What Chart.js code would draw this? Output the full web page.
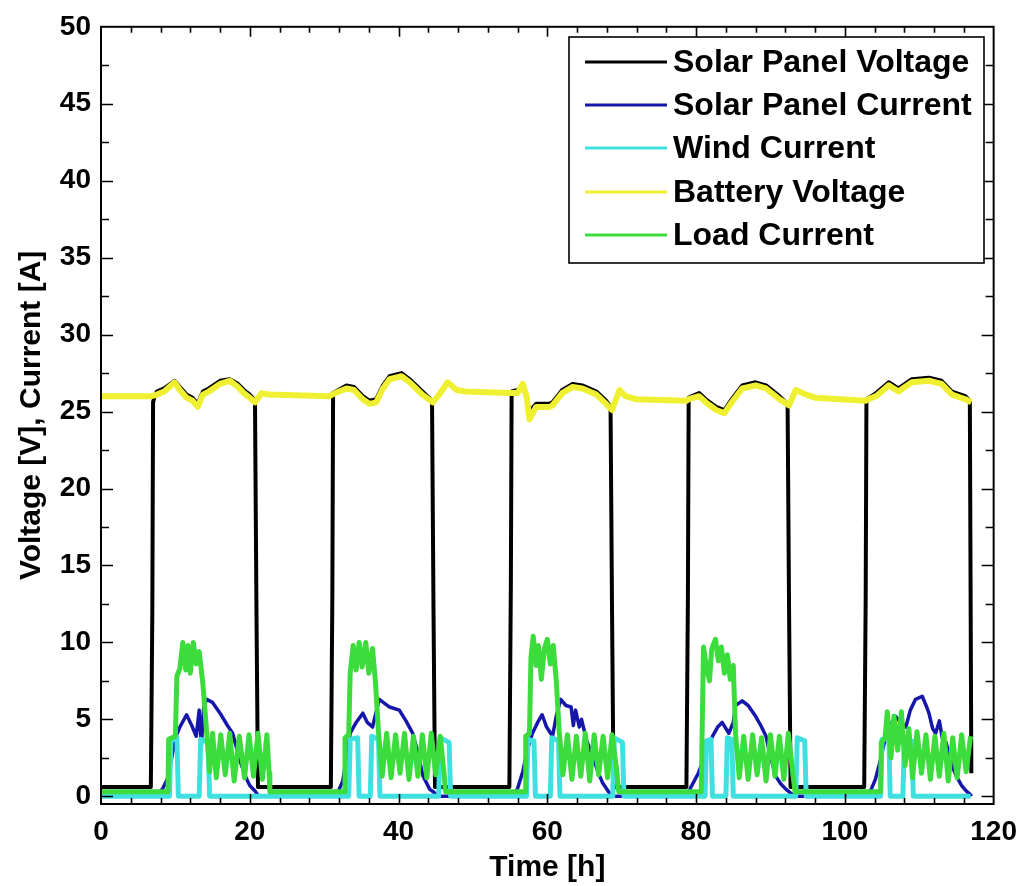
<!DOCTYPE html>
<html>
<head>
<meta charset="utf-8">
<script src="https://cdn.jsdelivr.net/npm/chart.js@4.4.1/dist/chart.umd.min.js"></script>
<style>
  html, body { margin: 0; padding: 0; background: #ffffff; }
  #wrap { width: 1028px; height: 886px; }
</style>
</head>
<body>
<div id="wrap"><canvas id="c" width="1028" height="886"></canvas></div>
<script>
// Axis tick labels
const xTickLabels = [0, 20, 40, 60, 80, 100, 120];
const yTickLabels = [0, 5, 10, 15, 20, 25, 30, 35, 40, 45, 50];

// Series: [time in hours, value]
const solarPanelVoltage = [
  [0,0.6],[6.7,0.6],[6.9,12],[7.0,25.6],[7.2,26.0],[7.5,26.3],[8.5,26.5],[9.9,27.0],[10.6,26.6],[11.5,26.1],
  [12.3,25.9],[13.0,25.5],[13.7,26.3],[14.5,26.5],[16.0,27.0],[17.3,27.1],[18.4,26.8],[19.2,26.4],[20.0,26.1],
  [20.7,25.7],[20.9,12],[21.1,0.6],
  [30.9,0.6],[31.1,13],[31.2,26.2],[33.0,26.7],[34.0,26.6],[35.2,26.0],[36.1,25.7],[37.0,25.8],[37.9,26.7],
  [38.8,27.3],[40.4,27.5],[41.5,27.1],[43.2,26.3],[44.5,25.7],[44.7,12],[44.9,0.6],
  [54.9,0.6],[55.1,14],[55.2,26.3],[56.0,26.4],[56.7,26.6],[57.2,25.9],[57.6,25.0],[58.5,25.5],[60.3,25.5],
  [60.7,25.6],[62.0,26.4],[63.4,26.8],[64.7,26.7],[66.6,26.3],[67.9,25.7],[68.5,25.3],[68.7,12],[68.9,0.6],
  [78.7,0.6],[78.9,13],[79.0,25.9],[80.4,26.2],[81.3,25.8],[82.7,25.3],[83.8,25.1],[84.8,25.8],[86.2,26.7],
  [88.0,26.9],[89.4,26.7],[91.2,26.0],[92.3,25.5],[92.5,12],[92.7,0.6],
  [102.6,0.6],[102.8,13],[102.9,25.8],[104.2,26.2],[105.9,26.9],[107.2,26.5],[109.0,27.1],[111.3,27.2],
  [113.0,27.0],[114.4,26.3],[116.2,26.0],[116.8,25.7],[117.0,1.5]
];

const solarPanelCurrent = [
  [0,0],[7.0,0],[7.5,0.1],[8.3,0.5],[8.9,1.1],[9.5,2.5],[10.0,3.8],[10.6,4.5],[11.5,5.3],[12.2,4.6],[12.8,3.9],
  [13.2,5.6],[13.5,3.3],[13.8,5.8],[14.2,6.3],[15.0,6.1],[16.0,5.4],[17.0,4.6],[17.7,4.1],[18.3,3.0],[18.9,2.0],
  [19.5,1.2],[20.0,0.7],[20.7,0.35],[21.2,0],
  [31.2,0],[31.8,0.2],[32.5,1.0],[33.0,2.5],[33.5,4.1],[34.3,4.8],[35.2,5.4],[35.8,4.8],[36.5,4.5],[37.0,5.5],
  [37.4,6.3],[38.8,5.8],[40.1,5.6],[41.0,4.9],[41.9,4.1],[42.6,2.8],[43.3,1.3],[44.2,0.45],[44.8,0.25],[45.2,0],
  [55.3,0],[56.0,0.5],[56.7,1.6],[57.3,3.0],[58.0,4.1],[58.7,4.8],[59.3,5.3],[59.9,4.5],[60.7,3.9],[61.2,5.2],
  [61.8,6.3],[62.5,5.9],[63.2,5.8],[63.5,4.6],[63.8,5.6],[64.3,4.5],[64.6,5.0],[65.3,3.6],[66.1,2.6],[66.8,1.6],
  [67.4,0.9],[68.3,0.25],[68.8,0],
  [79.0,0],[79.2,0.5],[80.3,1.5],[81.3,2.8],[82.2,3.9],[82.9,4.5],[83.5,4.8],[84.4,4.1],[85.0,4.8],[85.3,5.9],
  [86.2,6.2],[87.0,5.9],[88.0,5.2],[88.7,4.6],[89.4,3.9],[90.0,2.6],[90.7,1.3],[91.4,0.8],[92.1,0.45],[93.0,0.1],[93.3,0],
  [102.9,0],[103.5,0.4],[104.1,1.1],[104.8,2.4],[105.4,3.7],[106.1,4.6],[106.8,5.2],[107.5,4.8],[108.2,4.5],
  [108.8,5.6],[109.5,6.3],[110.4,6.5],[111.0,5.8],[111.3,5.4],[111.8,4.4],[112.2,4.1],[112.7,4.9],[113.1,3.8],
  [113.6,3.5],[114.4,2.0],[115.0,1.3],[115.7,0.7],[116.3,0.35],[116.9,0.1],[117.0,0]
];

const windCurrent = [
  [0,0],[9.2,0],[9.4,3.6],[10.2,3.8],[10.4,0],[13.2,0],[13.4,3.7],[14.4,3.5],[14.6,0],
  [33.3,0],[33.5,3.7],[34.5,3.8],[34.7,0],[36.2,0],[36.4,3.9],[37.3,3.7],[37.5,0],[45.4,0],[45.6,3.8],[46.8,3.5],[47.0,0],
  [57.2,0],[57.4,3.7],[58.2,3.6],[58.4,0],[60.4,0],[60.6,3.8],[61.5,3.6],[61.7,0],[68.8,0],[69.0,3.8],[70.1,3.5],[70.3,0],
  [81.2,0],[81.4,3.6],[82.0,3.7],[82.2,0],[84.0,0],[84.2,3.8],[84.8,3.7],[85.0,0],[93.4,0],[93.6,3.8],[94.6,3.6],[94.8,0],
  [104.8,0],[105.0,3.7],[105.9,3.8],[106.1,0],[107.8,0],[108.0,3.7],[109.0,3.6],[109.2,0],[116.9,0]
];

const batteryVoltage = [
  [0,26.0],[6.8,26.0],[7.5,26.1],[8.5,26.3],[9.9,26.9],[10.6,26.4],[11.5,25.9],[12.3,25.7],[13.0,25.3],[13.7,26.1],
  [14.5,26.3],[16.0,26.8],[17.3,27.0],[18.4,26.6],[19.2,26.2],[20.0,25.9],[20.7,25.6],[21.6,26.2],[22.5,26.1],
  [30.7,26.0],[31.5,26.2],[33.0,26.5],[34.0,26.4],[35.2,25.8],[36.1,25.5],[37.0,25.6],[37.9,26.5],[38.8,27.1],
  [40.4,27.3],[41.5,26.9],[43.2,26.1],[44.6,25.6],[45.3,26.0],[46.6,26.9],[47.8,26.4],[49.0,26.3],[54.9,26.2],
  [56.0,26.2],[56.7,26.8],[57.2,26.0],[57.6,24.5],[58.5,25.3],[60.3,25.3],[60.7,25.4],[62.0,26.2],[63.4,26.6],
  [64.7,26.5],[66.6,26.1],[67.9,25.5],[68.7,25.1],[69.7,26.4],[70.5,26.0],[72.0,25.8],[78.7,25.7],[79.0,25.8],
  [80.4,26.0],[81.3,25.6],[82.7,25.1],[83.8,24.9],[84.8,25.6],[86.2,26.5],[88.0,26.7],[89.4,26.5],[91.2,25.8],
  [92.5,25.4],[93.4,26.4],[94.8,26.1],[96.0,25.9],[102.8,25.7],[103.1,25.8],[104.2,26.0],[105.9,26.7],[107.2,26.3],
  [109.0,26.9],[111.3,27.0],[113.0,26.8],[114.4,26.1],[116.2,25.8],[117.0,25.6]
];

const loadCurrent = [
  [0,0.3],[9.0,0.3],[9.1,3.7],[10.0,3.9],[10.2,7.8],[10.6,8.3],[11.0,10.0],[11.4,8.2],[11.7,9.8],[12.0,8.0],
  [12.4,10.0],[12.8,8.6],[13.2,9.4],[13.7,7.3],[14.2,4.2],[14.6,1.6],[15.0,4.1],[15.5,1.2],[16.1,4.0],[16.7,1.4],
  [17.3,4.1],[17.9,1.0],[18.6,3.9],[19.3,1.2],[19.9,4.0],[20.5,1.3],[21.1,4.1],[21.7,1.1],[22.3,4.0],[22.6,1.5],[22.7,0.3],
  [32.7,0.3],[32.8,3.8],[33.3,4.0],[33.5,8.0],[33.9,9.8],[34.3,8.2],[34.7,10.0],[35.1,8.4],[35.6,10.0],[36.0,8.0],
  [36.5,9.6],[36.9,7.4],[37.3,4.2],[37.8,1.3],[38.4,4.1],[39.0,1.2],[39.6,4.0],[40.2,1.5],[40.8,4.1],[41.4,1.1],
  [42.0,3.9],[42.6,1.3],[43.2,4.0],[43.8,1.2],[44.4,4.1],[45.0,1.4],[45.6,3.9],[46.1,1.6],[46.3,0.3],
  [57.0,0.3],[57.1,3.9],[57.6,4.1],[57.8,9.0],[58.1,10.4],[58.5,8.5],[58.8,9.8],[59.2,7.6],[59.6,9.6],[60.0,10.2],
  [60.4,8.6],[60.8,9.8],[61.2,7.5],[61.6,4.2],[62.1,1.4],[62.7,4.0],[63.3,1.1],[63.9,3.9],[64.5,1.3],[65.1,4.1],
  [65.7,1.0],[66.3,4.0],[66.9,1.4],[67.5,3.9],[68.1,1.2],[68.7,4.0],[69.3,1.8],[69.6,0.3],
  [80.7,0.3],[80.8,3.8],[81.0,9.7],[81.4,8.4],[81.8,7.5],[82.1,9.6],[82.6,10.2],[83.0,8.8],[83.4,9.7],[83.8,8.0],
  [84.2,9.2],[84.6,7.6],[85.0,8.5],[85.3,4.1],[85.8,1.2],[86.4,3.9],[87.0,1.1],[87.6,4.0],[88.2,1.4],[88.8,3.8],
  [89.4,1.0],[90.0,4.0],[90.6,1.3],[91.2,3.9],[91.8,1.1],[92.4,4.1],[93.0,1.5],[93.3,0.3],
  [104.8,0.3],[104.9,3.5],[105.4,3.8],[105.7,5.5],[106.2,2.5],[106.6,5.2],[107.1,3.0],[107.6,5.5],[108.1,2.0],
  [108.6,4.4],[109.1,1.2],[109.7,4.2],[110.3,1.5],[110.9,4.0],[111.5,1.1],[112.1,3.9],[112.7,1.3],[113.3,4.1],
  [113.9,1.0],[114.5,3.8],[115.1,1.2],[115.7,4.0],[116.3,1.6],[116.9,3.9]
];

const seriesNames = ['Solar Panel Voltage', 'Solar Panel Current', 'Wind Current', 'Battery Voltage', 'Load Current'];
const seriesColors = ['#000000', '#1616aa', '#40e0e0', '#f0f032', '#3ddc3d'];
const seriesWidths = [4, 3.5, 5, 6, 5];
const seriesData = [solarPanelVoltage, solarPanelCurrent, windCurrent, batteryVoltage, loadCurrent];

const FONT = '"Liberation Sans", Arial, Helvetica, sans-serif';

// Box around the plot with inward ticks on all four sides
const framePlugin = {
  id: 'frame',
  afterDatasetsDraw(chart) {
    const { ctx, chartArea: a, scales: { x, y } } = chart;
    ctx.save();
    ctx.strokeStyle = '#000';
    ctx.lineWidth = 1.6;
    ctx.beginPath();
    for (let v = 4; v < 120; v += 4) {
      const px = Math.round(x.getPixelForValue(v)) + 0.5;
      const len = v % 20 === 0 ? 10 : 6;
      ctx.moveTo(px, a.bottom); ctx.lineTo(px, a.bottom - len);
      ctx.moveTo(px, a.top); ctx.lineTo(px, a.top + len);
    }
    for (let v = 0; v < 50; v += 2.5) {
      const py = Math.round(y.getPixelForValue(v)) + 0.5;
      const len = v % 5 === 0 ? 12 : 8;
      ctx.moveTo(a.left, py); ctx.lineTo(a.left + len, py);
      ctx.moveTo(a.right, py); ctx.lineTo(a.right - len, py);
    }
    ctx.stroke();
    ctx.lineWidth = 2;
    ctx.strokeRect(a.left, a.top, a.right - a.left, a.bottom - a.top);
    ctx.restore();
  }
};

// Boxed legend in the upper right of the plot
const boxLegendPlugin = {
  id: 'boxLegend',
  afterDraw(chart) {
    const { ctx } = chart;
    const box = { left: 569, top: 37, right: 984, bottom: 263 };
    const rowY = [62, 105, 148, 192, 235];
    ctx.save();
    ctx.fillStyle = '#fff';
    ctx.fillRect(box.left, box.top, box.right - box.left, box.bottom - box.top);
    ctx.strokeStyle = '#000';
    ctx.lineWidth = 1.6;
    ctx.strokeRect(box.left, box.top, box.right - box.left, box.bottom - box.top);
    chart.data.datasets.forEach((ds, i) => {
      const yy = rowY[i];
      ctx.strokeStyle = ds.borderColor;
      ctx.lineWidth = 3;
      ctx.beginPath();
      ctx.moveTo(585, yy); ctx.lineTo(667, yy);
      ctx.stroke();
      ctx.fillStyle = '#000';
      ctx.font = 'bold 32px ' + FONT;
      ctx.textAlign = 'left';
      ctx.textBaseline = 'middle';
      ctx.fillText(ds.label, 673, yy + 1);
    });
    ctx.restore();
  }
};

const datasets = seriesData.map((pts, i) => ({
  label: seriesNames[i],
  data: pts.map(p => ({ x: p[0], y: p[1] })),
  borderColor: seriesColors[i],
  backgroundColor: seriesColors[i],
  borderWidth: seriesWidths[i],
  pointRadius: 0,
  tension: 0,
  fill: false,
  borderJoinStyle: 'round',
  // later series in the list are painted on top
  order: seriesData.length - i
}));

new Chart(document.getElementById('c'), {
  type: 'line',
  data: { datasets },
  options: {
    responsive: false,
    devicePixelRatio: 1,
    animation: false,
    layout: { padding: { left: 0, top: 23, right: 33, bottom: 0 } },
    plugins: { legend: { display: false }, tooltip: { enabled: false } },
    scales: {
      x: {
        type: 'linear',
        min: 0, max: 120,
        grid: { display: false, drawTicks: false },
        border: { display: false },
        afterBuildTicks(scale) { scale.ticks = xTickLabels.map(v => ({ value: v })); },
        afterFit(scale) { scale.height = 82; },
        ticks: { color: '#000', padding: 11, maxRotation: 0, font: { family: FONT, size: 28, weight: 'bold' } },
        title: { display: true, text: 'Time [h]', color: '#000', padding: { top: 0, bottom: 0 },
                 font: { family: FONT, size: 30, weight: 'bold' } }
      },
      y: {
        type: 'linear',
        min: -0.5, max: 50,
        grid: { display: false, drawTicks: false },
        border: { display: false },
        afterBuildTicks(scale) { scale.ticks = yTickLabels.map(v => ({ value: v })); },
        afterFit(scale) { scale.width = 101; },
        ticks: { color: '#000', padding: 10, font: { family: FONT, size: 28, weight: 'bold' } },
        title: { display: true, text: 'Voltage [V], Current [A]', color: '#000', padding: { top: 14, bottom: 0 },
                 font: { family: FONT, size: 30, weight: 'bold' } }
      }
    }
  },
  plugins: [framePlugin, boxLegendPlugin]
});
</script>
</body>
</html>
